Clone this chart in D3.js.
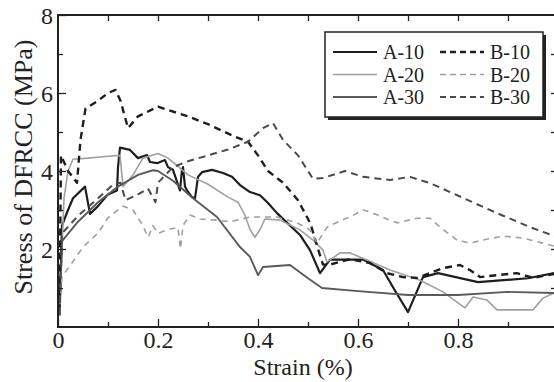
<!DOCTYPE html>
<html>
<head>
<meta charset="utf-8">
<script src="https://cdn.jsdelivr.net/npm/d3@7"></script>
<style>
  body { margin: 0; background: #fff; }
  svg { display: block; }
  svg text { font-family: "Liberation Serif", "Times New Roman", Times, serif; }
</style>
</head>
<body>
<svg id="chart" width="554" height="382"></svg>
<script>
// strain (%), stress (MPa)
const a10 = [[0.003,0.3],[0.008,2.6],[0.02,3.0],[0.03,3.3],[0.054,3.6],[0.064,2.9],[0.08,3.1],[0.1,3.4],[0.118,3.5],[0.12,4.1],[0.124,4.6],[0.144,4.54],[0.16,4.33],[0.178,4.41],[0.184,4.23],[0.198,4.2],[0.214,4.28],[0.22,4.1],[0.23,4.03],[0.244,3.5],[0.248,4.03],[0.25,4.1],[0.254,3.6],[0.258,3.5],[0.268,3.33],[0.274,3.3],[0.28,3.85],[0.288,3.97],[0.308,4.03],[0.33,3.95],[0.348,3.85],[0.364,3.64],[0.384,3.46],[0.404,3.38],[0.42,3.18],[0.438,2.92],[0.484,2.36],[0.504,1.97],[0.524,1.38],[0.544,1.73],[0.61,1.73],[0.65,1.46],[0.67,1.02],[0.7,0.38],[0.73,1.28],[0.76,1.38],[0.84,1.15],[0.94,1.25],[1.0,1.4]];
const a20 = [[0.003,0.3],[0.012,3.3],[0.02,4.0],[0.03,4.3],[0.06,4.33],[0.1,4.38],[0.124,4.4],[0.13,3.6],[0.15,3.9],[0.17,4.33],[0.2,4.45],[0.22,4.33],[0.26,3.9],[0.3,3.66],[0.34,3.33],[0.36,3.2],[0.374,2.86],[0.384,2.5],[0.394,2.3],[0.404,2.5],[0.414,2.77],[0.444,2.74],[0.484,2.49],[0.51,2.23],[0.53,1.97],[0.538,1.67],[0.564,1.9],[0.584,1.9],[0.618,1.72],[0.664,1.46],[0.724,1.2],[0.77,0.9],[0.798,0.64],[0.814,0.49],[0.83,0.77],[0.858,0.69],[0.878,0.44],[0.95,0.44],[0.97,0.74],[1.0,0.92]];
const a30 = [[0.003,0.3],[0.008,2.2],[0.04,2.7],[0.08,3.2],[0.12,3.6],[0.16,3.9],[0.19,4.02],[0.2,4.0],[0.23,3.75],[0.27,3.3],[0.318,2.82],[0.364,2.05],[0.384,1.8],[0.4,1.33],[0.41,1.54],[0.464,1.59],[0.5,1.25],[0.528,1.0],[0.6,0.92],[0.7,0.82],[0.8,0.82],[0.9,0.9],[1.0,0.87]];
const b10 = [[0.003,0.5],[0.006,4.4],[0.02,4.0],[0.038,3.7],[0.045,4.8],[0.055,5.6],[0.08,5.8],[0.1,6.0],[0.115,6.08],[0.125,5.8],[0.14,5.1],[0.16,5.4],[0.2,5.65],[0.26,5.4],[0.3,5.2],[0.35,4.9],[0.38,4.75],[0.4,4.4],[0.42,4.0],[0.45,3.7],[0.48,3.25],[0.505,2.65],[0.52,2.0],[0.53,1.6],[0.544,1.6],[0.584,1.74],[0.624,1.64],[0.658,1.38],[0.69,1.28],[0.718,1.26],[0.744,1.38],[0.77,1.51],[0.804,1.59],[0.824,1.46],[0.844,1.28],[0.878,1.33],[0.918,1.38],[0.95,1.26],[1.0,1.38]];
const b20 = [[0.003,0.3],[0.008,1.3],[0.02,1.5],[0.05,2.05],[0.08,2.41],[0.1,2.8],[0.13,3.1],[0.15,3.0],[0.17,2.6],[0.18,2.3],[0.19,2.6],[0.2,2.4],[0.22,2.5],[0.24,2.55],[0.245,2.0],[0.25,2.6],[0.264,2.87],[0.284,2.77],[0.318,2.74],[0.344,2.7],[0.384,2.82],[0.438,2.82],[0.478,2.67],[0.504,2.49],[0.518,2.15],[0.538,2.56],[0.564,2.72],[0.584,2.82],[0.61,3.0],[0.624,2.95],[0.664,2.74],[0.678,2.67],[0.718,2.79],[0.744,2.79],[0.764,2.56],[0.798,2.23],[0.824,2.15],[0.85,2.23],[0.89,2.33],[0.93,2.28],[0.97,2.15],[1.0,2.05]];
const b30 = [[0.003,0.3],[0.008,2.4],[0.04,2.85],[0.08,3.3],[0.11,3.65],[0.125,3.7],[0.135,3.25],[0.16,3.4],[0.18,3.55],[0.195,3.2],[0.2,3.7],[0.23,4.1],[0.26,4.25],[0.3,4.4],[0.34,4.55],[0.38,4.75],[0.41,5.1],[0.43,5.23],[0.45,4.8],[0.48,4.4],[0.5,4.0],[0.51,3.8],[0.53,3.82],[0.574,4.0],[0.61,3.85],[0.664,3.77],[0.704,3.85],[0.744,3.69],[0.81,3.31],[0.878,2.92],[0.944,2.56],[1.0,2.3]];

const seriesNames = ['A-10', 'A-20', 'A-30', 'B-10', 'B-20', 'B-30'];
const seriesData = [a10, a20, a30, b10, b20, b30];
const xTicks = [0, 0.2, 0.4, 0.6, 0.8];
const yTicks = [2, 4, 6, 8];

const styles = {
    'A-10': { color: '#1e1e1e', width: 2.2, dash: null },
    'A-20': { color: '#a0a0a0', width: 1.6, dash: null },
    'A-30': { color: '#5a5a5a', width: 1.9, dash: null },
    'B-10': { color: '#1e1e1e', width: 2.4, dash: '7,5' },
    'B-20': { color: '#a0a0a0', width: 1.6, dash: '6,5' },
    'B-30': { color: '#4a4a4a', width: 2.0, dash: '7,5' }
};

const serif = '"Liberation Serif", "Times New Roman", Times, serif';
const mLeft = 58, mRight = 558, mTop = 15, mBottom = 327;

const svg = d3.select('#chart');

const x = d3.scaleLinear().domain([0, 1]).range([mLeft, mRight]);
const y = d3.scaleLinear().domain([0, 8]).range([mBottom, mTop]);

// curves
const line = d3.line()
    .x(d => x(d[0]))
    .y(d => y(d[1]));

const plot = svg.append('g');
seriesData.forEach((data, i) => {
    const s = styles[seriesNames[i]];
    plot.append('path')
        .datum(data)
        .attr('d', line)
        .attr('fill', 'none')
        .attr('stroke', s.color)
        .attr('stroke-width', s.width)
        .attr('stroke-dasharray', s.dash)
        .attr('stroke-linejoin', 'round');
});

// frame with inward ticks on all sides
const axisColor = '#222';
const xBottom = svg.append('g')
    .attr('transform', `translate(0,${mBottom})`)
    .call(d3.axisBottom(x).tickValues(xTicks).tickSize(-8).tickFormat(d => d === 0 ? '0' : d3.format('.1f')(d)));
const xBottomMinor = svg.append('g')
    .attr('transform', `translate(0,${mBottom})`)
    .call(d3.axisBottom(x).tickValues([0.1, 0.3, 0.5, 0.7, 0.9]).tickSize(-5).tickFormat(''));
const xTop = svg.append('g')
    .attr('transform', `translate(0,${mTop})`)
    .call(d3.axisTop(x).tickValues([0.1, 0.2, 0.3, 0.4, 0.5, 0.6, 0.7, 0.8, 0.9]).tickSize(-6).tickFormat(''));
const yLeft = svg.append('g')
    .attr('transform', `translate(${mLeft},0)`)
    .call(d3.axisLeft(y).tickValues(yTicks).tickSize(-8).tickFormat(d3.format('d')));
const yLeftMinor = svg.append('g')
    .attr('transform', `translate(${mLeft},0)`)
    .call(d3.axisLeft(y).tickValues([1, 3, 5, 7]).tickSize(-5).tickFormat(''));
const yRight = svg.append('g')
    .attr('transform', `translate(${mRight},0)`)
    .call(d3.axisRight(y).tickValues([1, 2, 3, 4, 5, 6, 7]).tickSize(-7).tickFormat(''));

[xBottom, xBottomMinor, xTop, yLeft, yLeftMinor, yRight].forEach(g => {
    g.attr('font-family', serif);
    g.select('.domain').remove();
    g.selectAll('line').attr('stroke', axisColor).attr('stroke-width', 1.3);
    g.selectAll('text')
        .attr('fill', '#222')
        .attr('font-family', serif)
        .attr('font-size', 24);
});
xBottom.selectAll('text').attr('dy', null).attr('y', 21);
yLeft.selectAll('text').attr('x', -5).attr('dy', '0.34em');

svg.append('rect')
    .attr('x', mLeft).attr('y', mTop)
    .attr('width', mRight - mLeft).attr('height', mBottom - mTop)
    .attr('fill', 'none')
    .attr('stroke', axisColor)
    .attr('stroke-width', 2);

// axis titles
svg.append('text')
    .attr('x', 303).attr('y', 375)
    .attr('text-anchor', 'middle')
    .attr('fill', '#222')
    .attr('font-family', serif)
    .attr('font-size', 24)
    .text('Strain (%)');

svg.append('text')
    .attr('transform', 'translate(32,167) rotate(-90)')
    .attr('text-anchor', 'middle')
    .attr('fill', '#222')
    .attr('font-family', serif)
    .attr('font-size', 26)
    .text('Stress of DFRCC (MPa)');

// legend
const lg = svg.append('g').attr('transform', 'translate(325,32)');
lg.append('rect')
    .attr('x', 3).attr('y', 3).attr('width', 218).attr('height', 85)
    .attr('fill', '#222');
lg.append('rect')
    .attr('width', 218).attr('height', 85)
    .attr('fill', '#fff')
    .attr('stroke', '#222')
    .attr('stroke-width', 1.5);

seriesNames.forEach((name, i) => {
    const s = styles[name];
    const col = Math.floor(i / 3), row = i % 3;
    const gx = 8 + col * 107, gy = 20 + row * 22.5;
    lg.append('line')
        .attr('x1', gx).attr('x2', gx + 44)
        .attr('y1', gy).attr('y2', gy)
        .attr('stroke', s.color)
        .attr('stroke-width', s.width)
        .attr('stroke-dasharray', s.dash ? '6,4' : null);
    lg.append('text')
        .attr('x', gx + 50).attr('y', gy + 7)
        .attr('fill', '#222')
        .attr('font-family', serif)
        .attr('font-size', 20)
        .text(name);
});
</script>
</body>
</html>
